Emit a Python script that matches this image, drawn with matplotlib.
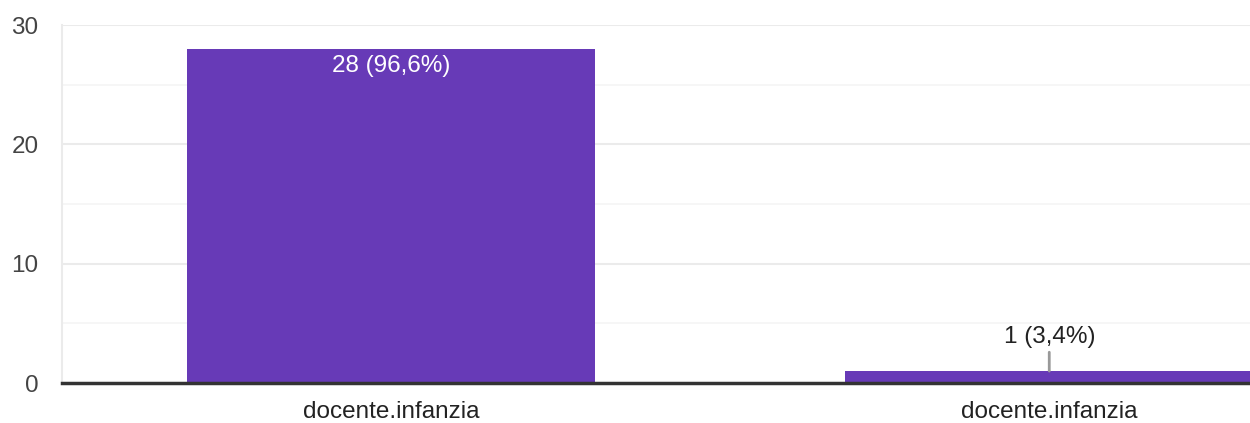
import matplotlib
matplotlib.use("Agg")
import matplotlib.pyplot as plt

# data
categories = ["docente.infanzia", "docente.infanzia"]
counts = [28, 1]
labels = ["28 (96,6%)", "1 (3,4%)"]

plt.rcParams['font.family'] = ['Liberation Sans', 'DejaVu Sans']

fig = plt.figure(figsize=(12.5, 4.23), dpi=100)
ax = fig.add_axes([62/1250, 40/423, 1 - 62/1250, 358/423])

x = list(range(len(counts)))
ax.bar(x, counts, width=0.62, color='#673ab7', zorder=2)

ax.set_xlim(-0.5, 1.305)
ax.set_ylim(0, 30)
ax.set_yticks([0, 10, 20, 30])
ax.set_yticks([5, 15, 25], minor=True)
ax.set_xticks(x)
ax.set_xticklabels(categories)
ax.tick_params(axis='y', which='both', length=0, pad=17, labelsize=17.5, labelcolor='#444444')
ax.tick_params(axis='x', length=0, pad=13, labelsize=17.5, labelcolor='#222222')
ax.grid(axis='y', which='major', color='#ebebeb', linewidth=1.5, zorder=0)
ax.grid(axis='y', which='minor', color='#f5f5f5', linewidth=1.2, zorder=0)

for s in ['top', 'right']:
    ax.spines[s].set_visible(False)
ax.spines['left'].set_color('#ebebeb')
ax.spines['left'].set_linewidth(1.5)
ax.spines['bottom'].set_color('#333333')
ax.spines['bottom'].set_linewidth(2.5)
ax.spines['bottom'].set_zorder(3)

# value labels
ax.text(x[0], counts[0] - 1.45, labels[0], ha='center', va='center',
        color='white', fontsize=17.5, zorder=4)
ax.annotate(labels[1], xy=(x[1], counts[1]), xytext=(x[1], counts[1] + 2.85),
            ha='center', va='center', fontsize=17.5, color='#222222',
            arrowprops=dict(arrowstyle='-', color='#999999', lw=2,
                            shrinkA=1, shrinkB=0))

fig.savefig("out.png", dpi=100)
